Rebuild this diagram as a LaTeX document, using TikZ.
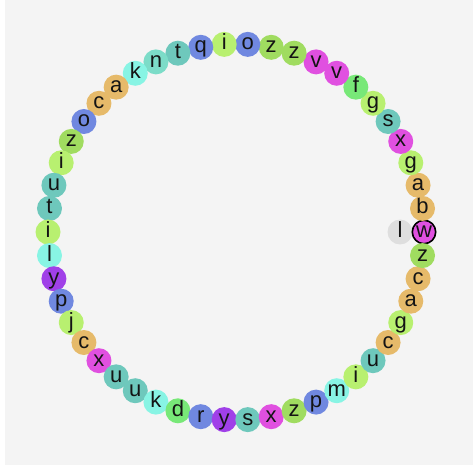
\documentclass[tikz,border=0pt]{standalone}
\usepackage{fontspec}
\setmainfont{Liberation Sans}
\definecolor{blu}{HTML}{7088E0}
\definecolor{lim}{HTML}{B8F070}
\definecolor{grn}{HTML}{A0DC60}
\definecolor{mag}{HTML}{E050E0}
\definecolor{fgr}{HTML}{78E878}
\definecolor{tea}{HTML}{6EC8BC}
\definecolor{nte}{HTML}{7CDCC8}
\definecolor{tan}{HTML}{E6BA6A}
\definecolor{aqu}{HTML}{88F4E4}
\definecolor{pur}{HTML}{A040E8}
\definecolor{bg}{HTML}{F4F4F4}
\definecolor{ink}{HTML}{141414}
\begin{document}
\begin{tikzpicture}[x=1pt,y=1pt,
  bead/.style={circle, minimum size=25pt, inner sep=0pt, text=ink,
    font=\fontsize{22}{22}\selectfont, text height=11pt, text depth=0pt},
  current/.style={bead, draw=black, line width=1.6pt, minimum size=23.4pt}]
\useasboundingbox (0,0) rectangle (473,466);
\fill[white] (0,0) rectangle (473,466);
\fill[bg] (5,1) rectangle (473,466);
\node[bead, fill=black!13] (ghost) at (400,234) {l};
\foreach \l/\c [count=\i from 0] in {w/mag,b/tan,a/tan,g/lim,x/mag,s/tea,g/lim,f/fgr,v/mag,v/mag,
  z/grn,z/grn,o/blu,i/lim,q/blu,t/tea,n/nte,k/aqu,a/tan,c/tan,
  o/blu,z/grn,i/lim,u/tea,t/tea,i/lim,l/aqu,y/pur,p/blu,j/lim,
  c/tan,x/mag,u/tea,u/tea,k/aqu,d/fgr,r/blu,y/pur,s/tea,x/mag,
  z/grn,p/blu,m/aqu,i/lim,u/tea,c/tan,g/lim,a/tan,c/tan,z/grn}{
  \ifnum\i=0
    \node[current, fill=\c] (n\i) at ({236+188*cos(7.2*\i)},{234+188*sin(7.2*\i)}) {\l};
  \else
    \node[bead, fill=\c] (n\i) at ({236+188*cos(7.2*\i)},{234+188*sin(7.2*\i)}) {\l};
  \fi
}
\end{tikzpicture}
\end{document}
